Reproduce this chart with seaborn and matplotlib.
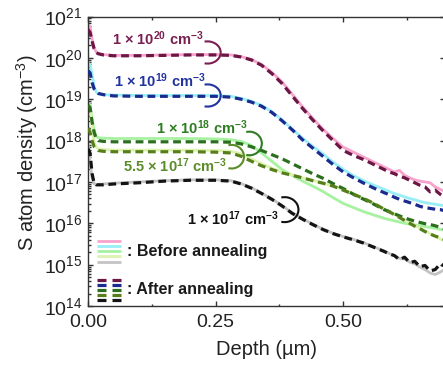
import numpy as np
import pandas as pd
import matplotlib
matplotlib.use("Agg")
import matplotlib.pyplot as plt
import matplotlib.transforms as mtransforms
from matplotlib.patches import Arc
from matplotlib.ticker import FixedLocator, LogLocator, LogFormatterSciNotation, NullFormatter
import seaborn as sns

# ---------------------------------------------------------------- data
# depth below the surface (µm)
depth = [0.000, 0.004, 0.008, 0.012, 0.016, 0.020, 0.030, 0.050, 0.100, 0.150,
         0.200, 0.250, 0.280, 0.300, 0.320, 0.340, 0.360, 0.380, 0.400, 0.420,
         0.440, 0.460, 0.480, 0.500, 0.520, 0.540, 0.560, 0.580, 0.590, 0.600,
         0.610, 0.620, 0.630, 0.640, 0.650, 0.660, 0.670, 0.680, 0.690, 0.700]

# log10 of the S density (cm^-3), before annealing
before_1e20 = [20.80, 20.75, 20.45, 20.25, 20.14, 20.10, 20.08, 20.06, 20.06, 20.07,
               20.08, 20.08, 20.07, 20.03, 19.96, 19.84, 19.65, 19.42, 19.12, 18.82,
               18.54, 18.28, 18.05, 17.84, 17.72, 17.60, 17.48, 17.36, 17.30, 17.24,
               17.28, 17.16, 17.10, 17.05, 17.02, 17.00, 16.98, 16.88, 16.82, 16.76]
before_1e19 = [19.88, 19.84, 19.60, 19.30, 19.18, 19.13, 19.11, 19.10, 19.09, 19.09,
               19.09, 19.09, 19.07, 19.02, 18.95, 18.85, 18.70, 18.50, 18.28, 18.06,
               17.86, 17.68, 17.48, 17.30, 17.15, 17.03, 16.92, 16.82, 16.77, 16.72,
               16.68, 16.64, 16.60, 16.57, 16.53, 16.50, 16.48, 16.46, 16.44, 16.42]
before_1e18 = [18.90, 18.87, 18.50, 18.25, 18.10, 18.07, 18.06, 18.05, 18.05, 18.05,
               18.05, 18.04, 18.02, 17.98, 17.88, 17.70, 17.50, 17.30, 17.16, 17.02,
               16.90, 16.77, 16.62, 16.48, 16.38, 16.28, 16.20, 16.12, 16.09, 16.06,
               16.03, 16.00, 15.98, 15.96, 15.94, 15.92, 15.90, 15.88, 15.85, 15.83]
before_55e17 = [18.85, 18.80, 18.30, 17.95, 17.85, 17.80, 17.78, 17.77, 17.77, 17.77,
                17.77, 17.76, 17.74, 17.68, 17.56, 17.44, 17.33, 17.24, 17.17, 17.10,
                17.04, 16.97, 16.90, 16.82, 16.72, 16.60, 16.48, 16.35, 16.28, 16.22,
                16.15, 16.08, 16.02, 15.95, 15.88, 15.82, 15.75, 15.68, 15.62, 15.55]
before_1e17 = [17.95, 17.50, 17.10, 16.96, 16.94, 16.94, 16.95, 16.97, 17.00, 17.03,
               17.05, 17.05, 17.03, 16.96, 16.86, 16.73, 16.59, 16.43, 16.25, 16.11,
               15.98, 15.86, 15.76, 15.68, 15.61, 15.53, 15.43, 15.33, 15.27, 15.22,
               15.15, 15.14, 15.06, 15.02, 14.94, 14.88, 14.80, 14.76, 14.82, 14.90]

# log10 of the S density (cm^-3), after annealing
after_1e20 = [20.68, 20.62, 20.40, 20.22, 20.13, 20.10, 20.07, 20.05, 20.05, 20.06,
              20.07, 20.07, 20.06, 20.02, 19.95, 19.82, 19.62, 19.38, 19.08, 18.78,
              18.50, 18.24, 18.00, 17.76, 17.64, 17.54, 17.42, 17.30, 17.24, 17.20,
              17.14, 17.10, 17.04, 16.98, 16.92, 16.88, 16.76, 16.80, 16.70, 16.62]
after_1e19 = [19.68, 19.64, 19.40, 19.25, 19.18, 19.14, 19.11, 19.08, 19.07, 19.07,
              19.07, 19.07, 19.05, 19.00, 18.93, 18.83, 18.68, 18.48, 18.26, 18.02,
              17.82, 17.62, 17.42, 17.24, 17.10, 16.97, 16.85, 16.74, 16.69, 16.63,
              16.58, 16.54, 16.50, 16.46, 16.41, 16.38, 16.36, 16.34, 16.33, 16.30]
after_1e18 = [18.85, 18.80, 18.45, 18.20, 18.05, 18.00, 17.98, 17.97, 17.97, 17.97,
              17.97, 17.97, 17.96, 17.92, 17.85, 17.76, 17.66, 17.56, 17.44, 17.32,
              17.20, 17.09, 16.96, 16.84, 16.70, 16.58, 16.46, 16.33, 16.28, 16.23,
              16.18, 16.13, 16.09, 16.05, 16.02, 15.99, 15.97, 15.94, 15.90, 15.86]
after_55e17 = [18.30, 18.20, 18.00, 17.85, 17.80, 17.76, 17.74, 17.73, 17.73, 17.73,
               17.73, 17.72, 17.70, 17.62, 17.50, 17.39, 17.30, 17.22, 17.16, 17.10,
               17.03, 16.97, 16.90, 16.80, 16.70, 16.60, 16.48, 16.34, 16.28, 16.21,
               16.14, 16.07, 16.00, 15.93, 15.87, 15.80, 15.74, 15.69, 15.65, 15.60]
after_1e17 = [17.80, 17.70, 17.20, 16.97, 16.93, 16.93, 16.93, 16.95, 16.98, 17.02,
              17.04, 17.04, 17.02, 16.95, 16.85, 16.72, 16.58, 16.42, 16.24, 16.10,
              15.97, 15.85, 15.75, 15.67, 15.60, 15.52, 15.42, 15.32, 15.26, 15.22,
              15.12, 15.18, 15.05, 15.08, 14.95, 14.98, 14.85, 14.88, 15.02, 14.95]

series_names = ["1e20", "1e19", "1e18", "5.5e17", "1e17"]
before_sets = [before_1e20, before_1e19, before_1e18, before_55e17, before_1e17]
after_sets = [after_1e20, after_1e19, after_1e18, after_55e17, after_1e17]

before_colors = ["#F7A3CC", "#98EEF6", "#A6F2A0", "#DDF2AE", "#C4C4C4"]
after_colors = ["#6B1644", "#1B2A8E", "#2B6E1E", "#567F1C", "#141414"]
label_colors = ["#7A1F52", "#2233A0", "#2E7D22", "#5B8C2A", "#111111"]

label_texts = [r"1 × 10$^{\mathbf{20}}$ cm$^{\mathbf{-3}}$",
               r"1 × 10$^{\mathbf{19}}$ cm$^{\mathbf{-3}}$",
               r"1 × 10$^{\mathbf{18}}$ cm$^{\mathbf{-3}}$",
               r"5.5 × 10$^{\mathbf{17}}$ cm$^{\mathbf{-3}}$",
               r"1 × 10$^{\mathbf{17}}$ cm$^{\mathbf{-3}}$"]
# label centres (depth, log10 density)
label_pos = [(0.137, 20.47), (0.141, 19.45), (0.223, 18.32), (0.170, 17.40), (0.283, 16.12)]
# bracket centres (depth, log10 density) and sizes in points
bracket_pos = [(0.234, 20.13), (0.234, 19.09), (0.316, 17.93), (0.281, 17.61), (0.385, 16.33)]
bracket_size = [(19, 16), (19, 16), (18, 17), (18, 17), (20, 18)]

# ---------------------------------------------------------------- style
sns.set_style("ticks")
plt.rcParams["font.family"] = ["Liberation Sans", "DejaVu Sans"]
plt.rcParams["mathtext.fontset"] = "custom"
plt.rcParams["mathtext.rm"] = "Liberation Sans"
plt.rcParams["mathtext.it"] = "Liberation Sans:italic"
plt.rcParams["mathtext.bf"] = "Liberation Sans:bold"
plt.rcParams["lines.scale_dashes"] = False

W, H = 443, 366
fig = plt.figure(figsize=(W / 100, H / 100), dpi=100)
fig.patch.set_facecolor("white")
ax = fig.add_axes([88 / W, (H - 306) / H, (445.4 - 88) / W, (306 - 16.5) / H])

rows = []
for name, b, a in zip(series_names, before_sets, after_sets):
    for d, vb, va in zip(depth, b, a):
        rows.append({"depth": d, "series": name, "state": "before", "conc": 10 ** vb})
        rows.append({"depth": d, "series": name, "state": "after", "conc": 10 ** va})
df = pd.DataFrame(rows)

DASH = (0, (5.6, 3.4))

sns.lineplot(data=df[df.state == "before"], x="depth", y="conc", hue="series",
             hue_order=series_names, palette=dict(zip(series_names, before_colors)),
             estimator=None, sort=False, legend=False, linewidth=2.0, ax=ax, zorder=2)
sns.lineplot(data=df[df.state == "after"], x="depth", y="conc", hue="series",
             hue_order=series_names, palette=dict(zip(series_names, after_colors)),
             estimator=None, sort=False, legend=False, linewidth=2.3,
             linestyle=DASH, ax=ax, zorder=3)
for line in ax.lines[len(series_names):]:
    line.set_linestyle(DASH)

ax.set_yscale("log")
ax.set_xlim(0, 0.7)
ax.set_ylim(1e14, 1e21)

# ticks
ax.xaxis.set_major_locator(FixedLocator([0.0, 0.25, 0.5]))
ax.xaxis.set_minor_locator(FixedLocator([0.125, 0.375, 0.625]))
ax.set_xticklabels(["0.00", "0.25", "0.50"])
ax.yaxis.set_major_locator(LogLocator(base=10, numticks=20))
ax.yaxis.set_major_formatter(LogFormatterSciNotation())
ax.yaxis.set_minor_locator(LogLocator(base=10, subs=np.arange(2, 10), numticks=20))
ax.yaxis.set_minor_formatter(NullFormatter())
ax.tick_params(which="both", direction="in", top=True, right=True,
               colors="#333333", labelcolor="#222222", width=1.0)
ax.tick_params(which="major", length=3.5, labelsize=14)
ax.tick_params(axis="y", which="major", pad=4)
ax.tick_params(axis="x", which="major", pad=6)
ax.tick_params(which="minor", length=1.8)
for s in ax.spines.values():
    s.set_color("#333333")
    s.set_linewidth(1.0)

ax.set_xlabel("Depth (µm)", fontsize=14.5, color="#222222", labelpad=6)
ax.set_ylabel("S atom density (cm$^{-3}$)", fontsize=14.5, color="#222222")
ax.yaxis.set_label_coords(-0.135, 0.53)

# series labels with brackets
for txt, (x, y), col in zip(label_texts, label_pos, label_colors):
    ax.text(x, 10 ** y, txt, color=col, fontsize=10.5, fontweight="bold",
            ha="center", va="center", zorder=5)
for (x, y), (w, h), col in zip(bracket_pos, bracket_size, label_colors):
    tr = fig.dpi_scale_trans + mtransforms.ScaledTranslation(x, 10 ** y, ax.transData)
    arc = Arc((0, 0), w / 72, h / 72, theta1=-105, theta2=105,
              color=col, linewidth=1.5, transform=tr, zorder=5)
    ax.add_patch(arc)

# key for the two measurement states
before_y = [0.2235, 0.206, 0.189, 0.172, 0.151]
after_y = [0.091, 0.074, 0.056, 0.039, 0.022]
for yy, col in zip(before_y, before_colors):
    ax.plot([0.025, 0.092], [yy, yy], color=col, linewidth=2.0,
            transform=ax.transAxes, solid_capstyle="butt", zorder=4)
for yy, col in zip(after_y, after_colors):
    for x0, x1 in [(0.025, 0.050), (0.067, 0.092)]:
        ax.plot([x0, x1], [yy, yy], color=col, linewidth=2.3,
                transform=ax.transAxes, solid_capstyle="butt", zorder=4)
ax.text(0.108, 0.187, ": Before annealing", transform=ax.transAxes,
        fontsize=11.5, fontweight="bold", color="#1a1a1a", va="center", ha="left")
ax.text(0.108, 0.056, ": After annealing", transform=ax.transAxes,
        fontsize=11.5, fontweight="bold", color="#1a1a1a", va="center", ha="left")

fig.savefig("out.png", dpi=100, facecolor="white")
